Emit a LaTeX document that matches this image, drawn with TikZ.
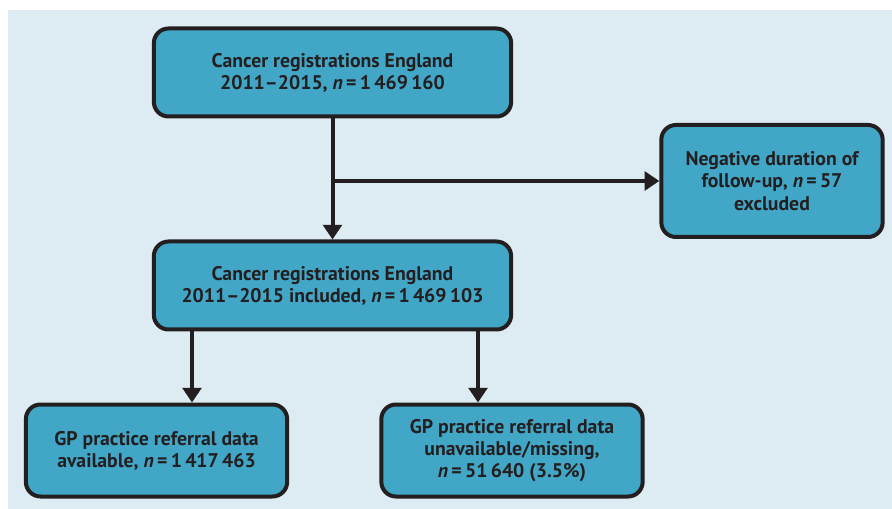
\documentclass[tikz,border=0pt]{standalone}
\usepackage{fontspec}
\setmainfont{PT Sans}
\usepackage{xcolor}
\usepackage{tikz}
\usetikzlibrary{positioning,arrows.meta,calc}

\definecolor{panelbg}{HTML}{DDEBF2}
\definecolor{boxfill}{HTML}{42A6C7}
\definecolor{inkdark}{HTML}{231F20}

\tikzset{
  flowbox/.style={draw=inkdark, fill=boxfill, line width=3pt, rounded corners=11pt,
    align=center, inner sep=0pt, text=inkdark, font=\bfseries\fontsize{14.8}{16.6}\selectfont},
  flowarr/.style={draw=inkdark, line width=3pt, -{Triangle[length=11pt,width=14pt]}},
  flowline/.style={draw=inkdark, line width=3pt}
}

\begin{document}
\begin{tikzpicture}[x=0.75pt, y=-0.75pt]
\useasboundingbox (0,0) rectangle (892,509);
\fill[panelbg] (8,10) rectangle (892,509);
% boxes
\node[flowbox, minimum width=268pt, minimum height=66pt] (reg) at (332.5,72.5)
  {Cancer registrations England\\2011--2015, \textit{n}\,=\,1\,469\,160};
\node[flowbox, minimum width=166pt, minimum height=84pt] (neg) at (772,181)
  {Negative duration of\\follow-up, \textit{n}\,=\,57\\excluded};
\node[flowbox, minimum width=268pt, minimum height=66pt] (inc) at (332.5,285.5)
  {Cancer registrations England\\2011--2015 included, \textit{n}\,=\,1\,469\,103};
\node[flowbox, minimum width=196pt, minimum height=69pt] (gpyes) at (156.5,450.5)
  {GP practice referral data\\available, \textit{n}\,=\,1\,417\,463};
\node[flowbox, minimum width=196pt, minimum height=69pt] (gpno) at (512,450.5)
  {GP practice referral data\\unavailable/missing,\\\textit{n}\,=\,51\,640 (3.5\%)};
% connectors
\coordinate (split) at (332,181);
\coordinate (leftdrop) at (192,0);
\coordinate (rightdrop) at (478,0);
\draw[flowarr] (reg.south) -- (inc.north);
\draw[flowarr] (split) -- (neg.west);
\draw[flowarr] (inc.south -| leftdrop) -- (gpyes.north -| leftdrop);
\draw[flowarr] (inc.south -| rightdrop) -- (gpno.north -| rightdrop);
\end{tikzpicture}
\end{document}
